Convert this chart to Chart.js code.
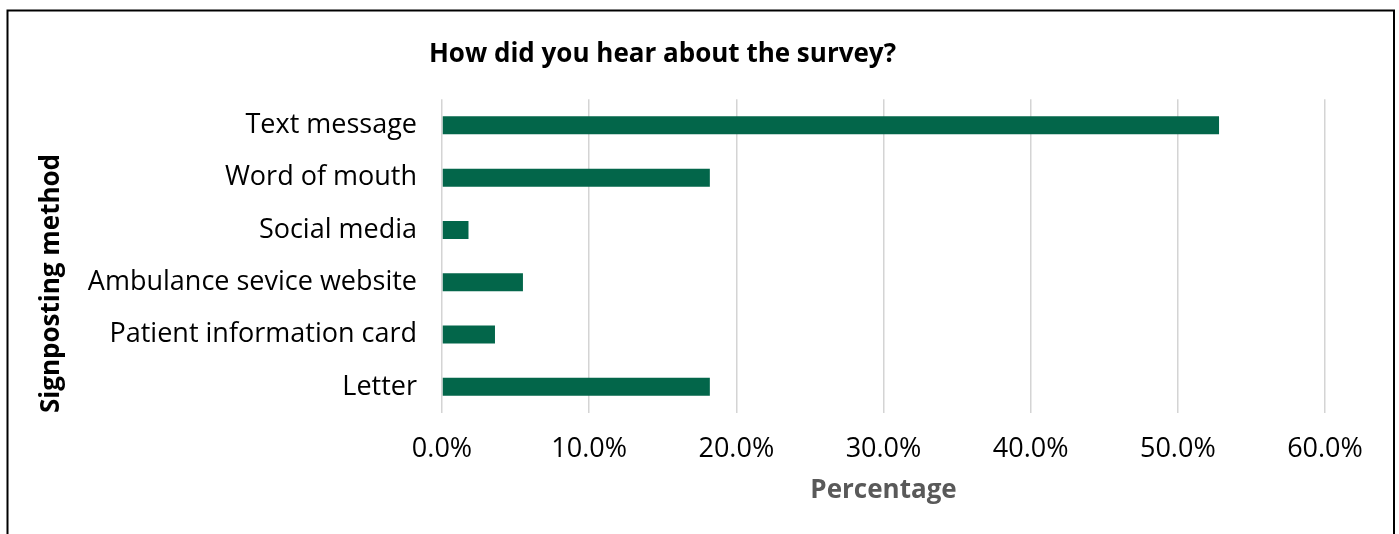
<!DOCTYPE html>
<html>
<head>
<meta charset="utf-8">
<script src="https://cdn.jsdelivr.net/npm/chart.js@4.4.0/dist/chart.umd.min.js"></script>
<style>
  body { margin: 0; background: #fff; }
  canvas { display: block; }
</style>
</head>
<body>
<canvas id="barChart" width="1399" height="534"></canvas>
<script>
// categories and values (percent of respondents)
var methods = ['Text message', 'Word of mouth', 'Social media', 'Ambulance sevice website', 'Patient information card', 'Letter'];
var percentages = [52.8, 18.2, 1.8, 5.5, 3.6, 18.2];
var xTicks = [0, 10, 20, 30, 40, 50, 60];

var frame = {
    id: 'frame',
    beforeDraw: function(chart) {
        var ctx = chart.ctx;
        ctx.save();
        ctx.fillStyle = '#fff';
        ctx.fillRect(0, 0, chart.width, chart.height);
        ctx.strokeStyle = '#000';
        ctx.lineWidth = 2;
        ctx.beginPath();
        ctx.moveTo(7.5, chart.height);
        ctx.lineTo(7.5, 10.5);
        ctx.lineTo(1394, 10.5);
        ctx.lineTo(1394, chart.height);
        ctx.stroke();
        ctx.restore();
    }
};

var barChartCanvas = document.getElementById('barChart').getContext('2d');
var barChart = new Chart(barChartCanvas, {
    type: 'bar',
    data: {
        labels: methods,
        datasets: [{
            data: percentages,
            backgroundColor: '#03664a',
            barPercentage: 0.345,
            categoryPercentage: 1
        }]
    },
    options: {
        indexAxis: 'y',
        responsive: false,
        animation: false,
        layout: { padding: { left: 0, right: 74, top: 0, bottom: 0 } },
        plugins: {
            legend: { display: false },
            tooltip: { enabled: false },
            title: {
                display: true,
                text: 'How did you hear about the survey?',
                color: '#000',
                font: { family: 'Open Sans', size: 26, weight: 'bold' },
                padding: { top: 39, bottom: 29 }
            }
        },
        scales: {
            x: {
                min: 0,
                max: 60,
                afterBuildTicks: function(scale) {
                    scale.ticks = xTicks.map(function(v) { return { value: v }; });
                },
                afterFit: function(scale) { scale.height = 121; },
                grid: { color: '#d4d4d4', lineWidth: 1.5, drawTicks: false },
                border: { display: false },
                ticks: {
                    color: '#000',
                    padding: 20,
                    font: { family: 'Open Sans', size: 27 },
                    callback: function(v) { return v.toFixed(1) + '%'; }
                },
                title: {
                    display: true,
                    text: 'Percentage',
                    color: '#595959',
                    font: { family: 'Open Sans', size: 26, weight: 'bold' },
                    padding: { top: 0, bottom: 28 }
                }
            },
            y: {
                afterFit: function(scale) { scale.width = 442; },
                grid: { display: false },
                border: { display: false },
                ticks: {
                    color: '#000',
                    padding: 17,
                    font: { family: 'Open Sans', size: 27 }
                },
                title: {
                    display: true,
                    text: 'Signposting method',
                    align: 'start',
                    color: '#000',
                    font: { family: 'Open Sans', size: 26, weight: 'bold' },
                    padding: { top: 36, bottom: 0 }
                }
            }
        }
    },
    plugins: [frame]
});
</script>
</body>
</html>
